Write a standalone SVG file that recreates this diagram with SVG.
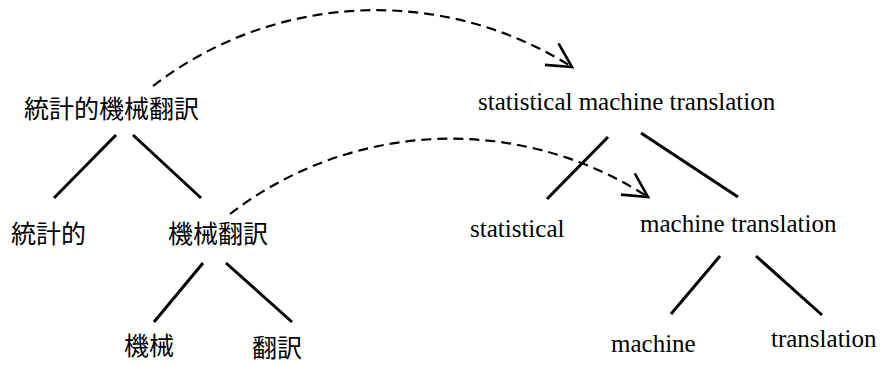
<svg xmlns="http://www.w3.org/2000/svg" width="880" height="365" viewBox="0 0 880 365">
<style>
.ja{font-family:"Noto Sans CJK JP","Noto Sans CJK SC",sans-serif;font-size:25px;fill:#000}
.en{font-family:"Liberation Serif","Times New Roman",serif;font-size:25px;fill:#000}
.edge{stroke:#000;stroke-width:3;fill:none}
.map{stroke:#000;stroke-width:2.2;fill:none;stroke-dasharray:10 6}
</style>
<defs>
<marker id="open" markerUnits="userSpaceOnUse" markerWidth="40" markerHeight="40" viewBox="-30 -20 40 40" refX="0" refY="0" orient="auto" overflow="visible">
<path d="M-24,-12.7 L0,0 L-24,12.7" fill="none" stroke="#000" stroke-width="2.6"/>
</marker>
</defs>
<rect width="880" height="365" fill="#fff"/>
<g id="ja-root"><text class="ja" x="24" y="118">統計的機械翻訳</text></g>
<g id="ja-stat"><text class="ja" x="11" y="243">統計的</text></g>
<g id="ja-mt"><text class="ja" x="168" y="243">機械翻訳</text></g>
<g id="ja-machine"><text class="ja" x="124" y="355">機械</text></g>
<g id="ja-trans"><text class="ja" x="252" y="357">翻訳</text></g>
<g id="en-root"><text class="en" x="478" y="110">statistical machine translation</text></g>
<g id="en-stat"><text class="en" x="470" y="237">statistical</text></g>
<g id="en-mt"><text class="en" x="640" y="232">machine translation</text></g>
<g id="en-machine"><text class="en" x="611" y="352">machine</text></g>
<g id="en-trans"><text class="en" x="771" y="347">translation</text></g>
<g id="connectors">
<line class="edge" x1="116" y1="135" x2="54" y2="198"/>
<line class="edge" x1="133" y1="135" x2="201" y2="198"/>
<line class="edge" x1="203" y1="263" x2="154" y2="322"/>
<line class="edge" x1="226" y1="263" x2="292" y2="322"/>
<line class="edge" x1="608" y1="137" x2="547" y2="199"/>
<line class="edge" x1="641" y1="133" x2="738" y2="197"/>
<line class="edge" x1="720" y1="256" x2="671" y2="314"/>
<line class="edge" x1="756" y1="256" x2="822" y2="315"/>
<path class="map" d="M153,86 A366,366 0 0 1 572,67" marker-end="url(#open)"/>
<path class="map" d="M230,214 A362,362 0 0 1 648,197" marker-end="url(#open)"/>
</g>
</svg>
